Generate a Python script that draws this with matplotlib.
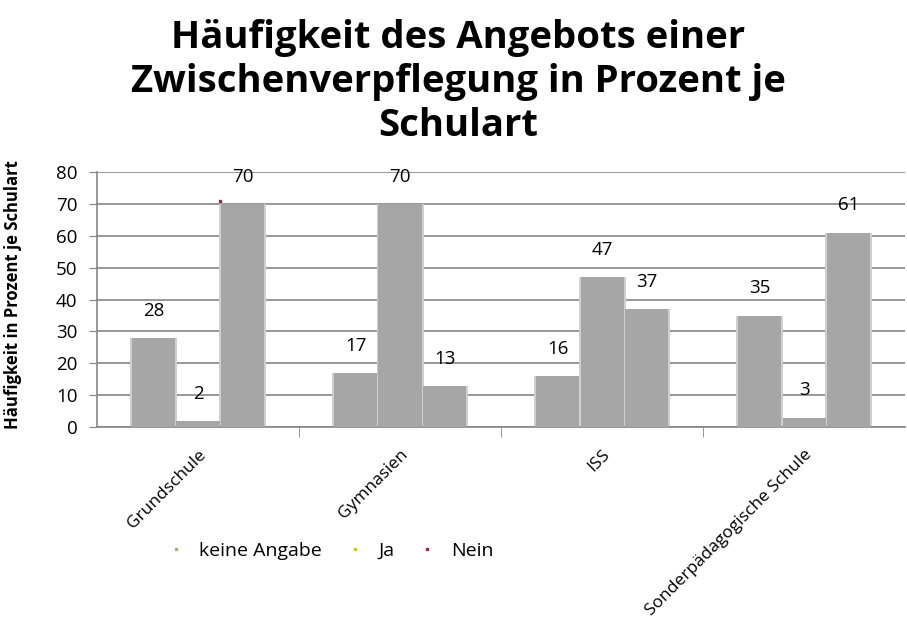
import numpy as np
import matplotlib
matplotlib.use("Agg")
import matplotlib.pyplot as plt
from matplotlib.lines import Line2D

# Daten
schularten = ["Grundschule", "Gymnasien", "ISS", "Sonderpädagogische Schule"]
serien = ["keine Angabe", "Ja", "Nein"]
keine_angabe = [28, 17, 16, 35]
ja = [2, 70, 47, 3]
nein = [70, 13, 37, 61]
legenden_farben = ["#9BBB59", "#D4C21A", "#A0283C"]

plt.rcParams['font.family'] = ['Open Sans', 'DejaVu Sans']

fig = plt.figure(figsize=(9.07, 6.3), dpi=100)
ax = fig.add_axes([0.107, 0.322, 0.891, 0.405])

x = np.arange(len(schularten))
breite = 0.22
grau = "#A6A6A6"

for i, werte in enumerate([keine_angabe, ja, nein]):
    pos = x + (i - 1) * breite
    # weicher Rand der Balken
    ax.bar(pos, werte, width=breite + 0.012, color="#CFCFCF", zorder=2)
    ax.bar(pos, werte, width=breite - 0.006, color=grau, zorder=3)
    for p, w in zip(pos, werte):
        ax.text(p, w + 8.5, str(w), ha='center', va='center', fontsize=13.5,
                color='black', zorder=4)

# kleine rote Markierung wie im Original
ax.plot(x[0] + breite / 2, nein[0] + 0.8, marker='s', markersize=2,
        color=legenden_farben[2], linestyle='none', zorder=5)

ax.set_xlim(-0.5, 3.5)
ax.set_ylim(0, 80)
ax.set_yticks(range(0, 81, 10))
ax.tick_params(axis='y', labelsize=13.5, length=6, color='#868686', pad=8)
ax.yaxis.grid(True, color='#868686', linewidth=1.2)
ax.set_axisbelow(True)

ax.set_xticks([0.5, 1.5, 2.5], minor=True)
ax.set_xticks(x)
ax.set_xticklabels(schularten, rotation=45, ha='right', va='top',
                   rotation_mode='anchor', fontsize=12.5)
ax.tick_params(axis='x', which='major', length=0, pad=14)
ax.tick_params(axis='x', which='minor', length=7, color='#868686', direction='out')

for s in ['top', 'right']:
    ax.spines[s].set_visible(False)
for s in ['left', 'bottom']:
    ax.spines[s].set_color('#868686')
    ax.spines[s].set_linewidth(1.2)

ax.set_ylabel("Häufigkeit in Prozent je Schulart", fontsize=12,
              fontweight='bold', labelpad=4)
ax.yaxis.set_label_coords(-0.093, 0.52)

fig.text(0.505, 0.87, "Häufigkeit des Angebots einer\nZwischenverpflegung in Prozent je\nSchulart",
         ha='center', va='center', fontsize=27.5, fontweight='bold',
         linespacing=1.2)

handles = [Line2D([], [], marker='s', linestyle='none', markersize=2,
                  color=c) for c in legenden_farben]
fig.legend(handles, serien, loc='center left', bbox_to_anchor=(0.168, 0.125),
           ncol=3, frameon=False, fontsize=14, handlelength=0.6,
           handletextpad=0.9, columnspacing=1.4)

fig.savefig("out.png", dpi=100)
